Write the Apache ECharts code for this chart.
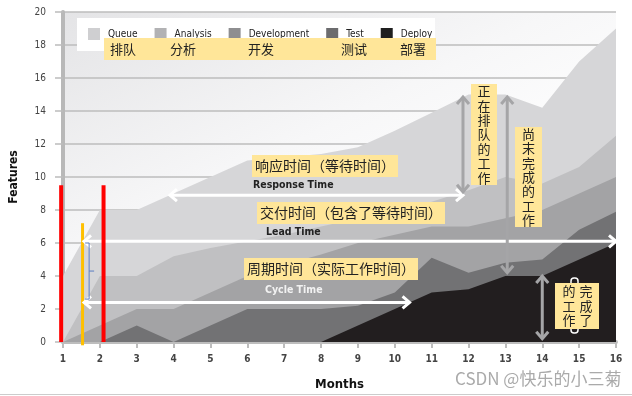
<!DOCTYPE html>
<html>
<head>
<meta charset="utf-8">
<script src="https://cdn.jsdelivr.net/npm/echarts@6/dist/echarts.min.js"></script>
<style>
html, body { margin: 0; padding: 0; background: #fff; }
#cfd { width: 632px; height: 396px; }
</style>
</head>
<body>
<div id="cfd"></div>
<script>
// cumulative flow: each array is the top edge of its band (features, cumulative)
const months = [1, 2, 3, 4, 5, 6, 7, 8, 9, 10, 11, 12, 13, 14, 15, 16];
const queueTotal  = [4, 8, 8, 9, 10, 11, 11.2, 11.4, 11.8, 12.8, 13.9, 15, 15, 14.2, 17, 19];
const analysisTop = [0, 4, 4, 5.2, 5.7, 6.1, 6.5, 7, 7.5, 8, 8.5, 9.2, 10, 9.6, 10.6, 12.5];
const devTop      = [0, 1, 2, 2, 3, 4, 4.7, 5.3, 6, 6.5, 7, 7, 7.5, 8, 9, 10];
const testTop     = [0, 0, 1, 0, 1, 2, 2, 2, 2.2, 3, 5.1, 4.2, 4.8, 5, 6.8, 7.9];
const deployTop   = [0, 0, 0, 0, 0, 0, 0, 0, 1, 2, 3, 3.2, 4, 4, 5, 6];

const stageNames = ['Queue', 'Analysis', 'Development', 'Test', 'Deploy'];
const stageNamesZh = ['排队', '分析', '开发', '测试', '部署'];

const cond = "'DejaVu Sans Condensed', 'Liberation Sans Narrow', sans-serif";
const cjk = "'Noto Sans CJK SC', sans-serif";

var chart = echarts.init(document.getElementById('cfd'));

function band(name, values, swatch, fill) {
    return {
        name: name,
        type: 'line',
        data: months.map((m, i) => [m, values[i]]),
        symbol: 'none',
        silent: true,
        lineStyle: { width: 0 },
        itemStyle: { color: swatch },
        areaStyle: { color: fill, opacity: 1 }
    };
}

const option = {
    animation: false,
    grid: {
        left: 63, right: 16, top: 12, bottom: 54,
        outerBoundsMode: 'none',
        containLabel: false,
        show: true, borderWidth: 0,
        backgroundColor: {
            type: 'linear', x: 0, y: 0, x2: 0.3, y2: 1,
            colorStops: [{ offset: 0, color: '#e4e4e6' }, { offset: 0.6, color: '#f7f7f8' }, { offset: 1, color: '#ffffff' }]
        }
    },
    legend: {
        data: stageNames,
        icon: 'rect',
        itemWidth: 12, itemHeight: 12,
        itemGap: 17,
        left: 88, top: 28,
        padding: 0,
        textStyle: { fontFamily: cond, fontSize: 10, color: '#222', padding: [0, 0, 0, 3] }
    },
    xAxis: {
        type: 'value',
        min: 1, max: 16, interval: 1,
        name: 'Months', nameLocation: 'middle', nameGap: 36,
        nameTextStyle: { fontFamily: cond, fontWeight: 'bold', fontSize: 13, color: '#111' },
        axisLine: { lineStyle: { color: '#bdbdbd', width: 4 } },
        axisTick: { show: true, length: 6, lineStyle: { color: '#bdbdbd', width: 2 } },
        axisLabel: { margin: 12, fontFamily: cond, fontSize: 10, fontWeight: 'bold', color: '#444' },
        splitLine: { show: false }
    },
    yAxis: {
        type: 'value',
        min: 0, max: 20, interval: 2,
        name: 'Features', nameLocation: 'middle', nameGap: 43, nameRotate: 90,
        nameTextStyle: { fontFamily: cond, fontWeight: 'bold', fontSize: 12, color: '#111' },
        axisLine: { show: true, lineStyle: { color: '#b8b8b8', width: 4 } },
        axisTick: { show: true, length: 8, lineStyle: { color: '#bcbcbc', width: 1.5 } },
        axisLabel: { margin: 17, fontFamily: cond, fontSize: 10, color: '#444' },
        splitLine: { lineStyle: { color: '#bcbcbc', width: 1.5 } }
    },
    series: [
        band('Queue', queueTotal, '#cfcfd1', '#d6d6d8'),
        band('Analysis', analysisTop, '#b2b2b4', '#c0c0c2'),
        band('Development', devTop, '#8e8e90', '#a3a3a5'),
        band('Test', testTop, '#6c6c6e', '#727274'),
        band('Deploy', deployTop, '#1f1f1f', '#221e1f')
    ]
};

chart.setOption(option);

// ---- annotations ----
const px = (x, y) => chart.convertToPixel({ gridIndex: 0 }, [x, y]);
const g = [];

function vline(x, y1, y2, color, w) {
    const a = px(x, y1), b = px(x, y2);
    g.push({ type: 'line', z: 100, shape: { x1: a[0], y1: a[1], x2: b[0], y2: b[1] }, style: { stroke: color, lineWidth: w } });
}

function head(p, q, color, w) {
    // chevron at p, pointing away from q
    const dx = p[0] - q[0], dy = p[1] - q[1];
    const len = Math.sqrt(dx * dx + dy * dy);
    const ux = dx / len, uy = dy / len;
    const L = 7, W = 6;
    g.push({
        type: 'polyline', z: 101,
        shape: { points: [[p[0] - ux * L + uy * W, p[1] - uy * L - ux * W], p, [p[0] - ux * L - uy * W, p[1] - uy * L + ux * W]] },
        style: { stroke: color, lineWidth: w, fill: null, lineJoin: 'miter' }
    });
}

function arrow(a, b, color, w) {
    const p = px(a[0], a[1]), q = px(b[0], b[1]);
    g.push({ type: 'line', z: 100, shape: { x1: p[0], y1: p[1], x2: q[0], y2: q[1] }, style: { stroke: color, lineWidth: w } });
    head(p, q, color, w);
    head(q, p, color, w);
}

// response / lead / cycle time
arrow([3.9, 8.9], [11.85, 8.9], '#ffffff', 3);
arrow([1.57, 6.1], [16, 6.1], '#ffffff', 3);
arrow([1.57, 2.4], [10.4, 2.4], '#ffffff', 3);
// queued, unfinished, finished
arrow([11.85, 14.85], [11.85, 9.1], '#a5a5a7', 3);
arrow([13.05, 14.85], [13.05, 4.2], '#a5a5a7', 3);
arrow([14, 4.0], [14, 0.2], '#a5a5a7', 3);

// red and orange markers
vline(0.95, 9.5, 0, '#ff0000', 4);
vline(2.1, 9.5, 0, '#ff0000', 4);
vline(1.53, 7.2, -0.2, '#ffc000', 3);

// small blue brace
const b1 = px(1.6, 6.0), b2 = px(1.6, 2.6);
g.push({
    type: 'polyline', z: 102,
    shape: { points: [[b1[0], b1[1]], [b1[0] + 4, b1[1]], [b1[0] + 4, b2[1]], [b1[0], b2[1]]] },
    style: { stroke: '#5b7fc4', lineWidth: 1, fill: null }
});
g.push({
    type: 'line', z: 102,
    shape: { x1: b1[0] + 4, y1: (b1[1] + b2[1]) / 2, x2: b1[0] + 9, y2: (b1[1] + b2[1]) / 2 },
    style: { stroke: '#5b7fc4', lineWidth: 1 }
});

// legend backing and chinese captions
g.push({ type: 'rect', z: 3, shape: { x: 77, y: 18, width: 358, height: 33 }, style: { fill: '#ffffff' } });
g.push({ type: 'rect', z: 110, shape: { x: 104, y: 38, width: 332, height: 22 }, style: { fill: '#ffe699' } });
const zhX = [110, 170, 248, 341, 400];
stageNamesZh.forEach((t, i) => {
    g.push({ type: 'text', z: 111, x: zhX[i], y: 49, style: { text: t, font: '13px ' + cjk, fill: '#222', verticalAlign: 'middle' } });
});

function box(x, y, w, h, text, size) {
    g.push({ type: 'rect', z: 110, shape: { x: x, y: y, width: w, height: h }, style: { fill: '#ffe699' } });
    g.push({ type: 'text', z: 111, x: x + w / 2, y: y + h / 2, style: { text: text, font: size + 'px ' + cjk, fill: '#222', align: 'center', verticalAlign: 'middle', lineHeight: 14.4 } });
}
function label(x, y, text, color) {
    g.push({ type: 'text', z: 111, x: x, y: y, style: { text: text, font: 'bold 10.5px ' + cond, fill: color, verticalAlign: 'middle' } });
}

box(252, 155, 146, 22, '响应时间（等待时间）', 14);
label(253, 185, 'Response Time', '#222');
box(257, 202, 188, 22, '交付时间（包含了等待时间）', 14);
label(266, 232, 'Lead Time', '#222');
box(244, 258, 174, 22, '周期时间（实际工作时间）', 14);
label(265, 290, 'Cycle Time', '#f2f2f2');

box(471, 84, 26, 101, '正\n在\n排\n队\n的\n工\n作', 13);
box(515, 127, 27, 100, '尚\n末\n完\n成\n的\n工\n作', 13);

g.push({ type: 'rect', z: 109, shape: { x: 571, y: 278, width: 7, height: 55, r: 3 }, style: { fill: null, stroke: '#ffffff', lineWidth: 1.5 } });
g.push({ type: 'rect', z: 110, shape: { x: 555, y: 283, width: 44, height: 46 }, style: { fill: '#ffe699' } });
g.push({ type: 'text', z: 111, x: 569, y: 306, style: { text: '的\n工\n作', font: '13px ' + cjk, fill: '#222', align: 'center', verticalAlign: 'middle', lineHeight: 14.5 } });
g.push({ type: 'text', z: 111, x: 586, y: 306, style: { text: '完\n成\n了', font: '13px ' + cjk, fill: '#222', align: 'center', verticalAlign: 'middle', lineHeight: 14.5 } });

// watermark and frame line
g.push({ type: 'text', z: 111, x: 455, y: 379, style: { text: 'CSDN @快乐的小三菊', font: '17px ' + cjk, fill: '#aaaaaa', verticalAlign: 'middle' } });
g.push({ type: 'line', z: 100, shape: { x1: 0, y1: 394.5, x2: 632, y2: 394.5 }, style: { stroke: '#cccccc', lineWidth: 1 } });

chart.setOption({ graphic: g });
</script>
</body>
</html>
